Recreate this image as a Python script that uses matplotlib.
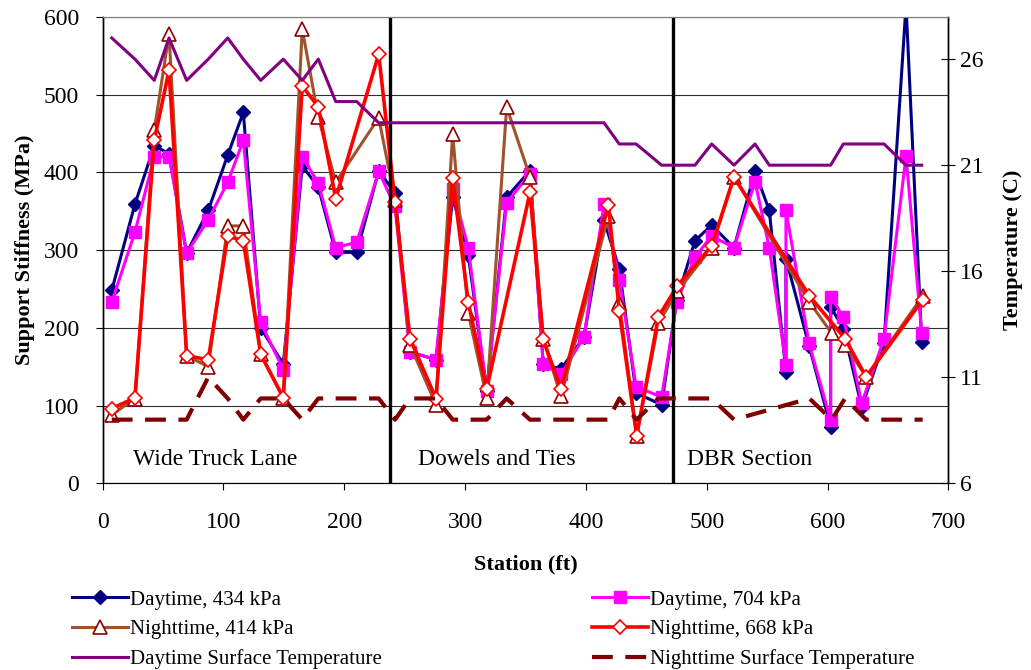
import matplotlib
matplotlib.use("Agg")
from matplotlib import pyplot as plt

plt.rcParams['font.family'] = ['Liberation Serif', 'DejaVu Serif']

# daytime FWD stations (ft); two drops at 565.6 and 602.6
day_station = [7.5, 26.7, 42.7, 54.9, 69.5, 87.4, 103.5, 116.4, 130.8, 149.5,
               165.2, 178.5, 192.9, 210.3, 228.5, 242.0, 254.4, 275.9, 289.7, 302.6,
               317.9, 334.4, 353.7, 364.7, 379.4, 398.4, 415.0, 427.6, 441.6, 462.7,
               475.2, 490.3, 504.1, 522.6, 540.0, 551.8, 565.6, 565.6, 584.7, 602.6,
               602.6, 613.1, 628.3, 646.8, 665.0, 678.0]
stiff_day_434 = [248, 359, 434, 424, 296, 351, 422, 477, 200, 153,
                 408, 381, 297, 297, 402, 373, 169, 159, 368, 294,
                 119, 368, 402, 153, 147, 188, 338, 276, 116, 101,
                 236, 312, 332, 303, 401, 351, 143, 289, 177, 73,
                 227, 199, 98, 181, 615, 182]
stiff_day_704 = [233, 323, 420, 420, 296, 339, 387, 441, 207, 146,
                 420, 386, 303, 310, 401, 356, 169, 159, 379, 303,
                 119, 361, 398, 153, 140, 188, 359, 262, 124, 111,
                 233, 291, 318, 303, 388, 303, 152, 351, 180, 81,
                 240, 214, 103, 186, 421, 193]
temp_day = [27, 26, 25, 27, 25, 26, 27, 26, 25, 26,
            25, 26, 24, 24, 23, 23, 23, 23, 23, 23,
            23, 23, 23, 23, 23, 23, 23, 22, 22, 21,
            21, 21, 22, 21, 22, 21, 21, 21, 21, 21,
            21, 22, 22, 22, 21, 21]

# nighttime stations (ft)
night_station = [7.5, 26.7, 42.7, 54.9, 69.5, 87.4, 103.5, 116.4, 130.8, 149.5,
                 165.2, 178.5, 192.9, 228.5, 242.0, 254.4, 275.9, 289.7, 302.6, 317.9,
                 334.4, 353.7, 364.7, 379.4, 418.6, 427.7, 442.0, 460.0, 475.7, 504.1,
                 522.6, 585.0, 603.5, 614.5, 632.0, 678.8]
stiff_night_414 = [88, 109, 454, 578, 164, 150, 331, 331, 166, 110,
                   584, 471, 387, 470, 364, 178, 101, 449, 219, 110,
                   484, 394, 185, 112, 344, 232, 61, 206, 247, 303,
                   394, 233, 193, 178, 137, 241]
temp_night = [9, 9, 9, 9, 9, 11, 10, 9, 10, 10,
              9, 10, 10, 10, 9, 10, 10, 9, 9, 9,
              10, 9, 9, 9, 9, 10, 9, 10, 10, 10,
              9, 10, 9, 10, 9, 9]

night_668_station = [7.5, 26.7, 42.7, 54.9, 69.5, 87.4, 103.5, 116.4, 130.8, 149.5,
                     165.2, 178.5, 192.9, 228.5, 242.0, 254.4, 275.9, 289.7, 302.6, 317.9,
                     353.7, 364.7, 379.4, 418.6, 427.7, 442.0, 460.0, 475.7, 504.1, 522.6,
                     585.0, 614.5, 632.0, 678.8]
stiff_night_668 = [96, 110, 441, 531, 164, 159, 318, 312, 166, 110,
                   511, 484, 366, 552, 362, 186, 109, 392, 233, 121,
                   374, 185, 121, 358, 221, 61, 214, 254, 305, 394,
                   241, 186, 137, 236]

section_bounds = [238, 472]
section_names = ["Wide Truck Lane", "Dowels and Ties", "DBR Section"]

fig = plt.figure(figsize=(10.31, 6.70), dpi=100)
ax = fig.add_axes([0.0996, 0.2787, 0.8202, 0.6963])
ax2 = ax.twinx()

l434, = ax.plot(day_station, stiff_day_434, color='#000080', lw=2.2, marker='D',
                markersize=7, markerfacecolor='#000080', markeredgecolor='#000080',
                label='Daytime, 434 kPa', zorder=3)
l704, = ax.plot(day_station, stiff_day_704, color='#FF00FF', lw=2.2, marker='s',
                markersize=9, markerfacecolor='#FF00FF', markeredgecolor='#FF00FF',
                label='Daytime, 704 kPa', zorder=4)
l414, = ax.plot(night_station, stiff_night_414, color='#A0522D', lw=2.2, marker='^',
                markersize=10, markerfacecolor='white', markeredgecolor='#8B0000',
                markeredgewidth=1.2, label='Nighttime, 414 kPa', zorder=5)
l668, = ax.plot(night_668_station, stiff_night_668, color='#FF0000', lw=2.6, marker='D',
                markersize=7, markerfacecolor='white', markeredgecolor='#FF0000',
                markeredgewidth=1.2, label='Nighttime, 668 kPa', zorder=6)

tday, = ax2.plot(day_station, temp_day, color='#800080', lw=2.2,
                 label='Daytime Surface Temperature')
tnight, = ax2.plot(night_station, temp_night, color='#800000', lw=3.0,
                   dashes=(5, 3), label='Nighttime Surface Temperature')

# section boundaries and names
for b in section_bounds:
    ax.axvline(b, color='black', lw=2.4, zorder=7)
for x, name in zip([25, 261, 484], section_names):
    ax.text(x, 30, name, fontsize=17, va='center', ha='left')

ax.set_xlim(0, 700)
ax.set_ylim(0, 600)
ax.set_xticks(range(0, 701, 100))
ax.set_yticks(range(0, 601, 100))
ax.grid(axis='y', color='#303030', lw=0.8)
ax.set_axisbelow(True)
ax.tick_params(labelsize=17, direction='out', length=5, width=0.8)
ax.tick_params(axis='y', pad=12)
ax.tick_params(axis='x', pad=16)
ax.set_xlabel('Station (ft)', fontsize=16, fontweight='bold', labelpad=15)
ax.set_ylabel('Support Stiffness (MPa)', fontsize=16, fontweight='bold', labelpad=6)

ax2.set_ylim(6, 28)
ax2.set_yticks([6, 11, 16, 21, 26])
ax2.tick_params(labelsize=17, direction='inout', length=10, width=0.8)
ax2.set_ylabel('Temperature (C)', fontsize=16, fontweight='bold', labelpad=14)

for a in (ax, ax2):
    a.spines['top'].set_color('#808080')
    a.spines['left'].set_linewidth(1.0)
    a.spines['right'].set_linewidth(1.0)

leg_kw = dict(loc='upper left', frameon=False, fontsize=15, handlelength=2.7,
              handletextpad=0.1, labelspacing=0.48, borderaxespad=0, borderpad=0)
fig.legend(handles=[l434, l414, tday], bbox_to_anchor=(72 / 1031, 1 - 590 / 670), **leg_kw)
fig.legend(handles=[l704, l668, tnight], bbox_to_anchor=(592 / 1031, 1 - 590 / 670), **leg_kw)

fig.savefig('out.png', dpi=100)
